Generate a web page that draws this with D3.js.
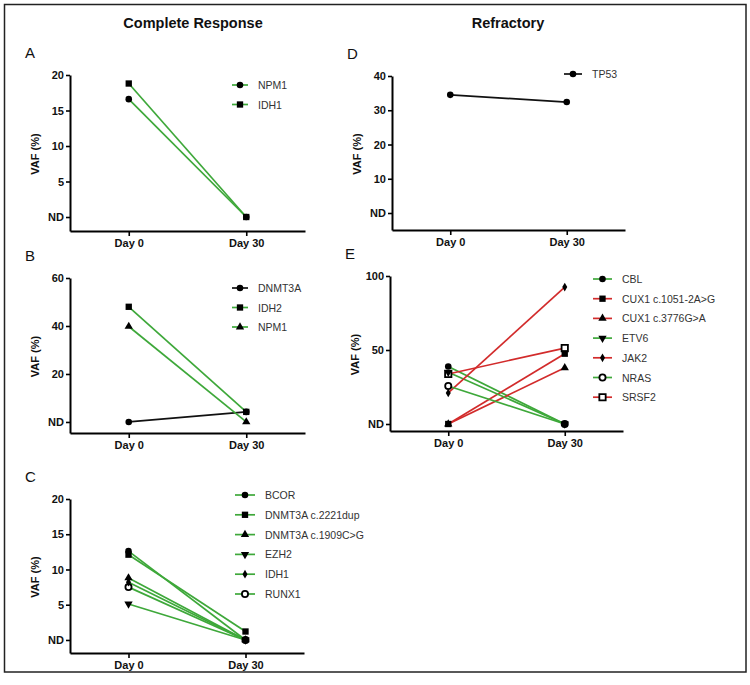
<!DOCTYPE html>
<html>
<head>
<meta charset="utf-8">
<script src="https://cdn.jsdelivr.net/npm/d3@7"></script>
<style>
  html, body { margin: 0; padding: 0; background: #fff; }
  svg { display: block; font-family: "Liberation Sans", Arial, sans-serif; }
</style>
</head>
<body>
<svg id="chart" width="750" height="685"></svg>
<script>
// ---------------- DATA ----------------
const days = ["Day 0", "Day 30"];

// Panel A – Complete Response
const genesA = ["NPM1", "IDH1"];
const valuesA = [[16.6, 0], [18.8, 0]];
const yTicksA = [0, 5, 10, 15, 20];

// Panel B – Complete Response
const genesB = ["DNMT3A", "IDH2", "NPM1"];
const valuesB = [[0, 4.2], [48, 4.2], [39.8, 0]];
const yTicksB = [0, 20, 40, 60];

// Panel C – Complete Response
const genesC = ["BCOR", "DNMT3A c.2221dup", "DNMT3A c.1909C>G", "EZH2", "IDH1", "RUNX1"];
const valuesC = [[12.6, 0], [12.1, 1.2], [8.8, 0], [5.1, 0], [8.2, 0], [7.5, 0]];
const yTicksC = [0, 5, 10, 15, 20];

// Panel D – Refractory
const genesD = ["TP53"];
const valuesD = [[34.5, 32.4]];
const yTicksD = [0, 10, 20, 30, 40];

// Panel E – Refractory
const genesE = ["CBL", "CUX1 c.1051-2A>G", "CUX1 c.3776G>A", "ETV6", "JAK2", "NRAS", "SRSF2"];
const valuesE = [[38.8, 0], [0, 47.5], [0, 38], [35, 0], [21, 92.5], [25.7, 0], [33.8, 51.3]];
const yTicksE = [0, 50, 100];

// ---------------- STYLES ----------------
const GREEN = "#3ea83a", RED = "#d22b2b", BLACK = "#111";
const colorsA = [GREEN, GREEN];
const colorsB = [BLACK, GREEN, GREEN];
const colorsC = [GREEN, GREEN, GREEN, GREEN, GREEN, GREEN];
const colorsD = [BLACK];
const colorsE = [GREEN, RED, RED, GREEN, RED, GREEN, RED];
const shapesA = ["circle", "square"];
const shapesB = ["circle", "square", "triangle"];
const shapesC = ["circle", "square", "triangle", "tridown", "diamond", "ocircle"];
const shapesD = ["circle"];
const shapesE = ["circle", "square", "triangle", "tridown", "diamond", "ocircle", "osquare"];

const panels = [
  { letter: "A", genes: genesA, values: valuesA, ticks: yTicksA, colors: colorsA, shapes: shapesA,
    x0: 70, x1: 305, yTop: 75, yBot: 231, dmin: -1.97, dmax: 20,
    leg: { x: 232, y: 85, dy: 19.5, len: 16 } },
  { letter: "B", genes: genesB, values: valuesB, ticks: yTicksB, colors: colorsB, shapes: shapesB,
    x0: 70, x1: 305, yTop: 278, yBot: 433, dmin: -4.6, dmax: 60,
    leg: { x: 232, y: 288, dy: 19.5, len: 16 } },
  { letter: "C", genes: genesC, values: valuesC, ticks: yTicksC, colors: colorsC, shapes: shapesC,
    x0: 70, x1: 304, yTop: 499, yBot: 653, dmin: -1.85, dmax: 20,
    leg: { x: 235, y: 495, dy: 19.8, len: 20 } },
  { letter: "D", genes: genesD, values: valuesD, ticks: yTicksD, colors: colorsD, shapes: shapesD,
    x0: 392, x1: 625, yTop: 76, yBot: 230, dmin: -4.96, dmax: 40,
    leg: { x: 564, y: 74, dy: 19.5, len: 18 } },
  { letter: "E", genes: genesE, values: valuesE, ticks: yTicksE, colors: colorsE, shapes: shapesE,
    x0: 390, x1: 623, yTop: 276, yBot: 431, dmin: -4.73, dmax: 100,
    leg: { x: 593, y: 279, dy: 19.7, len: 19 } }
];

const svg = d3.select("#chart");

// outer border
svg.append("rect").attr("x", 4.5).attr("y", 4.5).attr("width", 741.5).attr("height", 667.5)
  .attr("fill", "none").attr("stroke", "#222").attr("stroke-width", 1.5);

// column titles
svg.append("text").attr("x", 193).attr("y", 28).attr("text-anchor", "middle")
  .attr("font-size", 14.5).attr("font-weight", "bold").attr("fill", "#111").text("Complete Response");
svg.append("text").attr("x", 508).attr("y", 28).attr("text-anchor", "middle")
  .attr("font-size", 14.5).attr("font-weight", "bold").attr("fill", "#111").text("Refractory");

function symbolPath(shape) {
  switch (shape) {
    case "circle": return d3.symbol(d3.symbolCircle, 34)();
    case "ocircle": return d3.symbol(d3.symbolCircle, 30)();
    case "square": case "osquare": return d3.symbol(d3.symbolSquare, 40)();
    case "triangle": return d3.symbol(d3.symbolTriangle, 30)();
    case "tridown": return d3.symbol(d3.symbolTriangle, 30)();
    case "diamond": return d3.symbol(d3.symbolDiamond, 22)();
  }
}
function drawMarker(g, shape, x, y) {
  const open = shape === "ocircle" || shape === "osquare";
  g.append("path").attr("d", symbolPath(shape))
    .attr("transform", `translate(${x},${y})` + (shape === "tridown" ? " rotate(180)" : ""))
    .attr("fill", open ? "#fff" : "#000")
    .attr("stroke", "#000").attr("stroke-width", open ? 1.8 : 0);
}

panels.forEach(p => {
  const g = svg.append("g");
  const x = d3.scalePoint().domain(days).range([p.x0, p.x1]).padding(0.5);
  const y = d3.scaleLinear().domain([p.dmin, p.dmax]).range([p.yBot, p.yTop]);

  // panel letter
  g.append("text").attr("x", p.x0 - 45).attr("y", p.yTop - 17)
    .attr("font-size", 15).attr("fill", "#111").text(p.letter);

  // y axis
  const ya = g.append("g").attr("transform", `translate(${p.x0},0)`)
    .call(d3.axisLeft(y).tickValues(p.ticks).tickSizeInner(4).tickSizeOuter(0).tickPadding(2)
      .tickFormat(d => d === 0 ? "ND" : d));
  // x axis
  const xa = g.append("g").attr("transform", `translate(0,${p.yBot})`)
    .call(d3.axisBottom(x).tickSizeInner(5).tickSizeOuter(0).tickPadding(3));
  [ya, xa].forEach(a => {
    a.select(".domain").attr("stroke", "#000").attr("stroke-width", 2);
    a.selectAll(".tick line").attr("stroke", "#000").attr("stroke-width", 1.6);
    a.selectAll(".tick text").attr("font-size", 11).attr("font-weight", "bold")
      .attr("fill", "#111").attr("font-family", "Liberation Sans, Arial, sans-serif");
  });

  // y label
  g.append("text")
    .attr("transform", `translate(${p.x0 - 31},${(p.yTop + p.yBot) / 2 + 1}) rotate(-90)`)
    .attr("text-anchor", "middle").attr("font-size", 11).attr("font-weight", "bold")
    .attr("fill", "#111").text("VAF (%)");

  // lines
  const line = d3.line().x((d, i) => x(days[i])).y(d => y(d));
  p.values.forEach((vals, i) => {
    g.append("path").attr("d", line(vals)).attr("fill", "none")
      .attr("stroke", p.colors[i]).attr("stroke-width", 1.7);
  });
  // markers (first series drawn on top)
  for (let i = p.values.length - 1; i >= 0; i--) {
    p.values[i].forEach((v, j) => drawMarker(g, p.shapes[i], x(days[j]), y(v)));
  }

  // legend
  p.genes.forEach((name, i) => {
    const ly = p.leg.y + i * p.leg.dy;
    g.append("line").attr("x1", p.leg.x).attr("x2", p.leg.x + p.leg.len)
      .attr("y1", ly).attr("y2", ly).attr("stroke", p.colors[i]).attr("stroke-width", 1.7);
    drawMarker(g, p.shapes[i], p.leg.x + p.leg.len / 2, ly);
    g.append("text").attr("x", p.leg.x + p.leg.len + 10).attr("y", ly + 4)
      .attr("font-size", 10.5).attr("fill", "#333").text(name);
  });
});
</script>
</body>
</html>
